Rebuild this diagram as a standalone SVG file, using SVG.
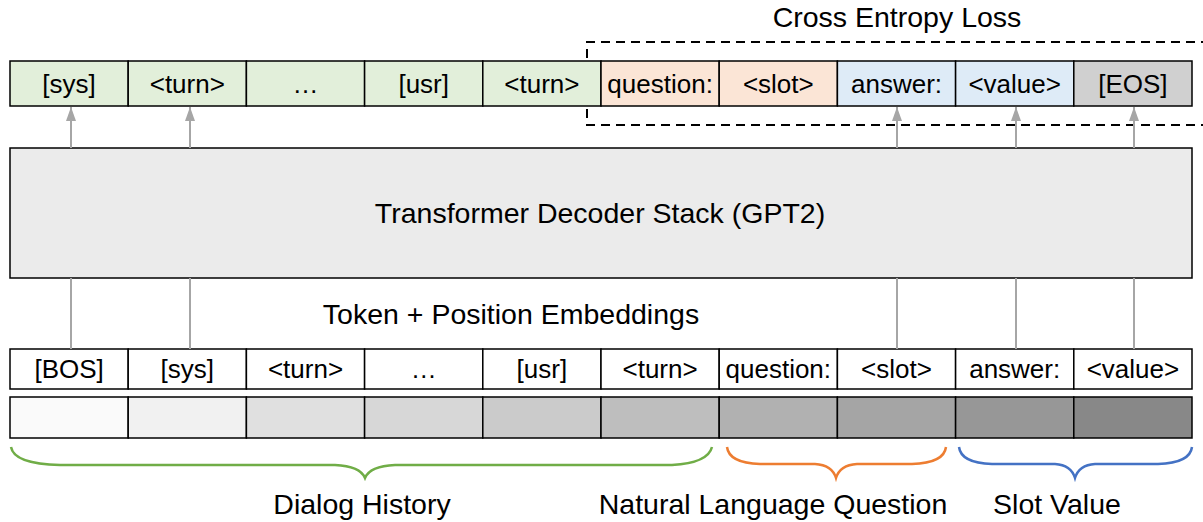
<svg xmlns="http://www.w3.org/2000/svg" width="1203" height="522" viewBox="0 0 1203 522">
<defs>
<style>
text{font-family:"Liberation Sans",Arial,sans-serif;fill:#000;text-anchor:middle}
.cell{stroke:#000;stroke-width:1.5}
.t{font-size:26px}
.big{font-size:28.5px}
.g{fill:#e2efda}.o{fill:#fbe5d6}.b{fill:#deebf7}.e{fill:#d0d0d0}.w{fill:#fff}
.conn{stroke:#a6a6a6;stroke-width:2;fill:none}
.brace{fill:none;stroke-width:2.5}
</style>
<marker id="ah" viewBox="0 0 14 10" refX="14" refY="5" markerWidth="14" markerHeight="10" markerUnits="userSpaceOnUse" orient="auto">
<path d="M0,0 L14,5 L0,10 Z" fill="#a6a6a6"/>
</marker>
</defs>
<rect width="1203" height="522" fill="#fff"/>

<g id="loss-label"><text class="big" x="897" y="27">Cross Entropy Loss</text></g>
<g id="loss-box"><path d="M1210,42 H587 V125 H1210" fill="none" stroke="#000" stroke-width="2" stroke-dasharray="9,6"/></g>

<g id="output-tokens">
<rect class="cell g" x="10" y="61" width="118.2" height="45"/><text class="t" x="69.1" y="93">[sys]</text>
<rect class="cell g" x="128.2" y="61" width="118.2" height="45"/><text class="t" x="187.3" y="93">&lt;turn&gt;</text>
<rect class="cell g" x="246.4" y="61" width="118.2" height="45"/><text class="t" x="305.5" y="93">…</text>
<rect class="cell g" x="364.6" y="61" width="118.2" height="45"/><text class="t" x="423.7" y="93">[usr]</text>
<rect class="cell g" x="482.8" y="61" width="118.2" height="45"/><text class="t" x="541.9" y="93">&lt;turn&gt;</text>
<rect class="cell o" x="601" y="61" width="118.2" height="45"/><text class="t" x="660.1" y="93">question:</text>
<rect class="cell o" x="719.2" y="61" width="118.2" height="45"/><text class="t" x="778.3" y="93">&lt;slot&gt;</text>
<rect class="cell b" x="837.4" y="61" width="118.2" height="45"/><text class="t" x="896.5" y="93">answer:</text>
<rect class="cell b" x="955.6" y="61" width="118.2" height="45"/><text class="t" x="1014.7" y="93">&lt;value&gt;</text>
<rect class="cell e" x="1073.8" y="61" width="118.2" height="45"/><text class="t" x="1132.9" y="93">[EOS]</text>
</g>

<g id="decoder">
<rect x="10" y="148" width="1182" height="130" fill="#ebebeb" stroke="#000" stroke-width="1.5"/>
<text class="big" x="600" y="223">Transformer Decoder Stack (GPT2)</text>
</g>

<g id="embed-label"><text class="big" x="511" y="324">Token + Position Embeddings</text></g>

<g id="input-tokens">
<rect class="cell w" x="10" y="349" width="118.2" height="40"/><text class="t" x="69.1" y="378">[BOS]</text>
<rect class="cell w" x="128.2" y="349" width="118.2" height="40"/><text class="t" x="187.3" y="378">[sys]</text>
<rect class="cell w" x="246.4" y="349" width="118.2" height="40"/><text class="t" x="305.5" y="378">&lt;turn&gt;</text>
<rect class="cell w" x="364.6" y="349" width="118.2" height="40"/><text class="t" x="423.7" y="378">…</text>
<rect class="cell w" x="482.8" y="349" width="118.2" height="40"/><text class="t" x="541.9" y="378">[usr]</text>
<rect class="cell w" x="601" y="349" width="118.2" height="40"/><text class="t" x="660.1" y="378">&lt;turn&gt;</text>
<rect class="cell w" x="719.2" y="349" width="118.2" height="40"/><text class="t" x="778.3" y="378">question:</text>
<rect class="cell w" x="837.4" y="349" width="118.2" height="40"/><text class="t" x="896.5" y="378">&lt;slot&gt;</text>
<rect class="cell w" x="955.6" y="349" width="118.2" height="40"/><text class="t" x="1014.7" y="378">answer:</text>
<rect class="cell w" x="1073.8" y="349" width="118.2" height="40"/><text class="t" x="1132.9" y="378">&lt;value&gt;</text>
</g>

<g id="embeddings">
<rect class="cell" x="10" y="397" width="118.2" height="41" fill="#fafafa"/>
<rect class="cell" x="128.2" y="397" width="118.2" height="41" fill="#f1f1f1"/>
<rect class="cell" x="246.4" y="397" width="118.2" height="41" fill="#e0e0e0"/>
<rect class="cell" x="364.6" y="397" width="118.2" height="41" fill="#d7d7d7"/>
<rect class="cell" x="482.8" y="397" width="118.2" height="41" fill="#cbcbcb"/>
<rect class="cell" x="601" y="397" width="118.2" height="41" fill="#bebebe"/>
<rect class="cell" x="719.2" y="397" width="118.2" height="41" fill="#b1b1b1"/>
<rect class="cell" x="837.4" y="397" width="118.2" height="41" fill="#a5a5a5"/>
<rect class="cell" x="955.6" y="397" width="118.2" height="41" fill="#979797"/>
<rect class="cell" x="1073.8" y="397" width="118.2" height="41" fill="#888888"/>
</g>

<g id="connectors">
<line class="conn" x1="71" y1="148" x2="71" y2="107" marker-end="url(#ah)"/>
<line class="conn" x1="190" y1="148" x2="190" y2="107" marker-end="url(#ah)"/>
<line class="conn" x1="897" y1="148" x2="897" y2="107" marker-end="url(#ah)"/>
<line class="conn" x1="1016" y1="148" x2="1016" y2="107" marker-end="url(#ah)"/>
<line class="conn" x1="1134" y1="148" x2="1134" y2="107" marker-end="url(#ah)"/>
<line class="conn" x1="71" y1="349" x2="71" y2="278"/>
<line class="conn" x1="190" y1="349" x2="190" y2="278"/>
<line class="conn" x1="897" y1="349" x2="897" y2="278"/>
<line class="conn" x1="1016" y1="349" x2="1016" y2="278"/>
<line class="conn" x1="1134" y1="349" x2="1134" y2="278"/>
</g>

<g id="brace-dialog">
<path class="brace" stroke="#70ad47" d="M11,447 Q14,464 60,465 L335,465 Q360,466 365,478 Q370,466 395,465 L672,465 Q708,463 712,447"/>
<text class="big" x="362" y="514">Dialog History</text>
</g>
<g id="brace-question">
<path class="brace" stroke="#ed7d31" d="M727,447 Q729,463 760,464 L815,464 Q832,465 836,478 Q840,465 857,464 L912,464 Q944,463 946,447"/>
<text class="big" x="773" y="514">Natural Language Question</text>
</g>
<g id="brace-slot">
<path class="brace" stroke="#4472c4" d="M959,447 Q961,463 992,464 L1055,464 Q1071,465 1075,478 Q1079,465 1095,464 L1158,464 Q1190,463 1192,447"/>
<text class="big" x="1057" y="514">Slot Value</text>
</g>
</svg>
